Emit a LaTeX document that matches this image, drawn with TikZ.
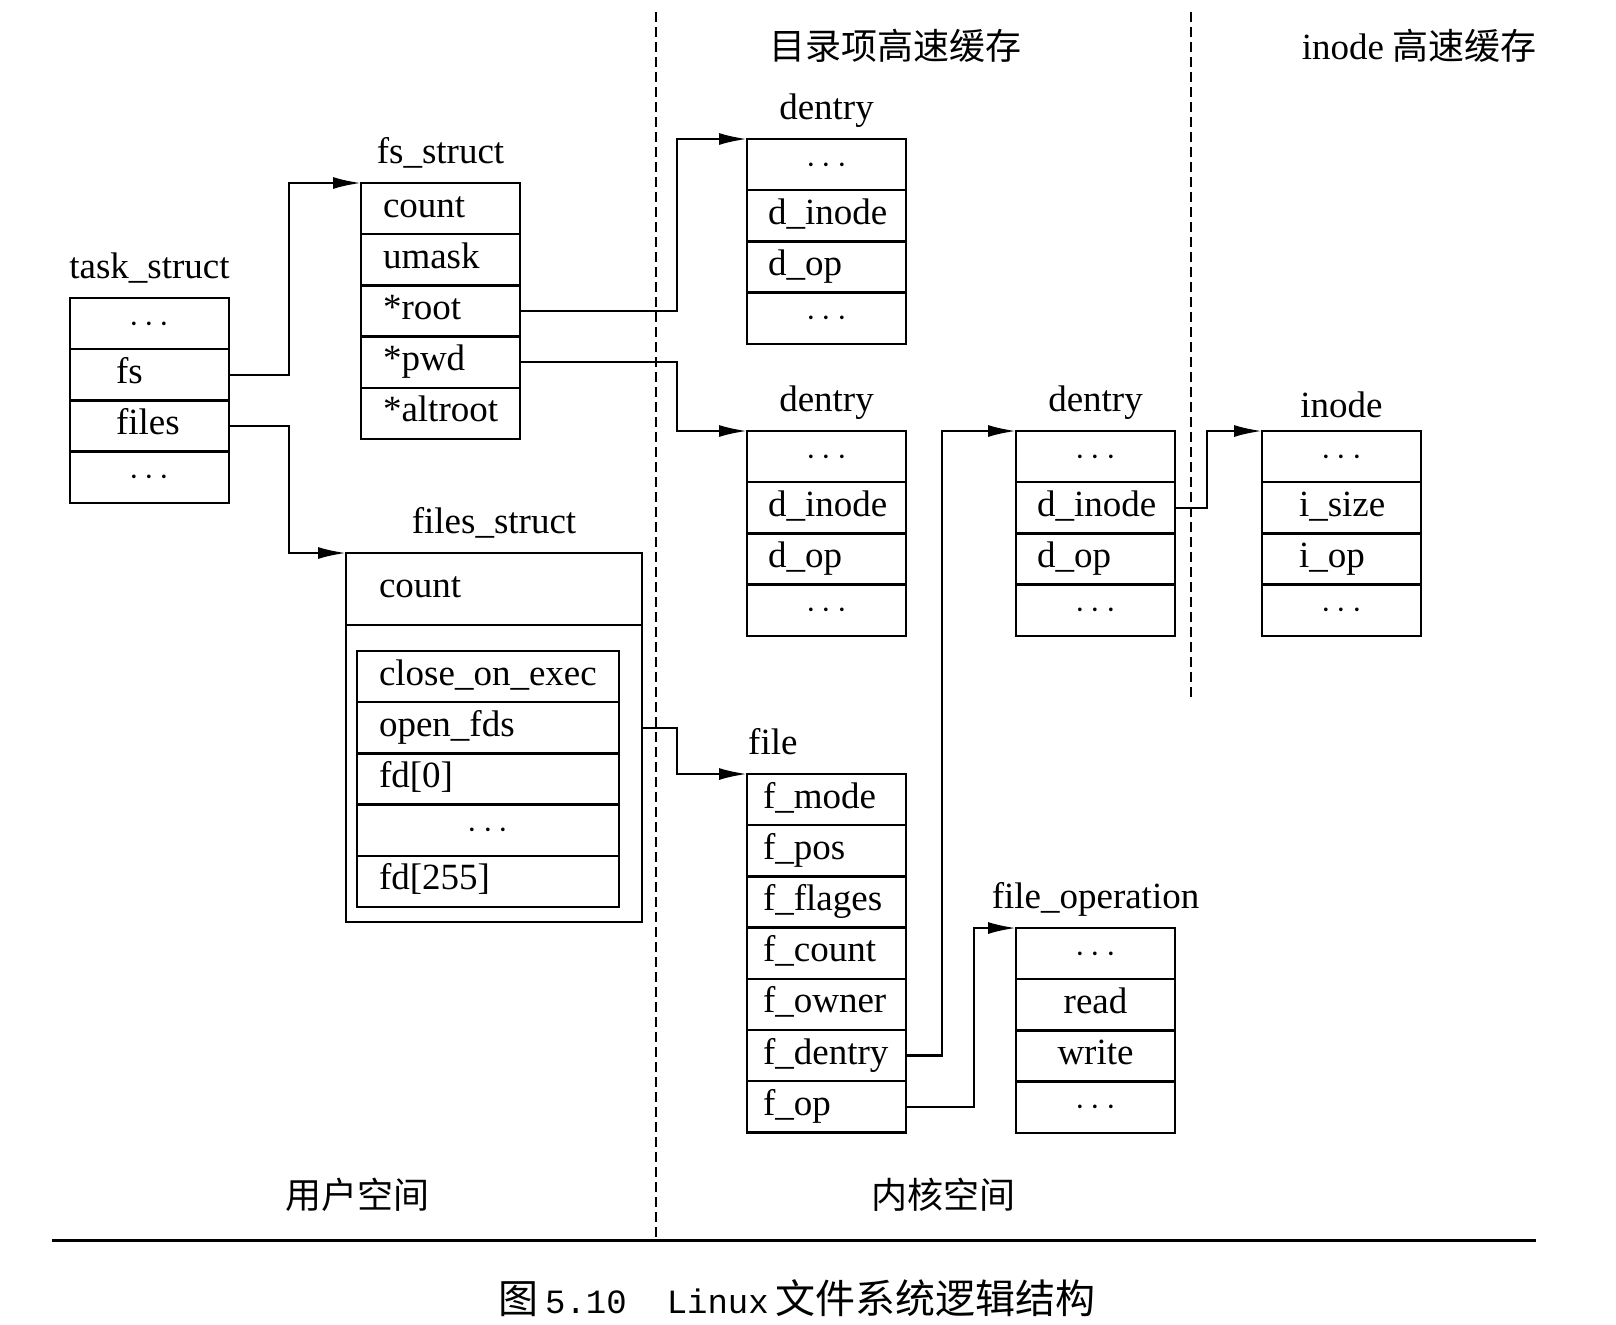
\documentclass[tikz,border=0pt]{standalone}
\usepackage{fontspec}
\setmainfont{Liberation Serif}
\setmonofont{Liberation Mono}
\newfontfamily\cjk{Noto Sans CJK SC}
\usetikzlibrary{positioning, arrows.meta}
\hyphenpenalty=10000

\begin{document}
\begin{tikzpicture}[
    x=0.5pt, y=-0.5pt, line width=1.2pt,
    field/.style={draw, outer sep=0pt, inner ysep=0pt, minimum height=25.6pt, text height=13pt, text depth=4.5pt, align=left, font=\fontsize{18.5}{22}\selectfont},
    tsrow/.style={field, inner xsep=23pt, text width=33.5pt},
    fsrow/.style={field, inner xsep=11pt, text width=57.5pt},
    fdrow/.style={field, inner xsep=11pt, text width=109pt},
    derow/.style={field, inner xsep=10.5pt, text width=58.5pt},
    filerow/.style={field, inner xsep=8pt, text width=63.5pt},
    inrow/.style={field, inner xsep=18.5pt, text width=42.5pt},
    title/.style={anchor=base, inner sep=0pt, font=\fontsize{18.5}{22}\selectfont},
    zh/.style={font=\fontsize{18}{20}\selectfont\cjk},
    arrow/.style={-{Latex[length=14pt, width=6pt]}},
    divider/.style={dash pattern=on 5pt off 2.5pt}
]
    \useasboundingbox (0,0) rectangle (1616,1324);

    % --- USER SPACE ---
    \node (ts1) [tsrow, align=center, anchor=north west] at (70,298) {$\cdots$};
    \node (ts2) [tsrow, below=0pt of ts1] {fs};
    \node (ts3) [tsrow, below=0pt of ts2] {files};
    \node (ts4) [tsrow, align=center, below=0pt of ts3] {$\cdots$};
    \node (ts) [title] at ([yshift=10pt]ts1.north) {task\_struct};

    \node (fs1) [fsrow, anchor=north west] at (361,183) {count};
    \node (fs2) [fsrow, below=0pt of fs1] {umask};
    \node (fs3) [fsrow, below=0pt of fs2] {*root};
    \node (fs4) [fsrow, below=0pt of fs3] {*pwd};
    \node (fs5) [fsrow, below=0pt of fs4] {*altroot};
    \node (fs) [title] at ([yshift=10pt]fs1.north) {fs\_struct};

    \node (fc) [field, inner xsep=16.5pt, text width=115pt, minimum height=36pt, anchor=north west] at (346,553) {count};
    \node (fbody) [draw, outer sep=0pt, minimum width=148pt, minimum height=148.5pt, below=0pt of fc] {};
    \node (fd1) [fdrow, anchor=north west] at (357,651) {close\_on\_exec};
    \node (fd2) [fdrow, below=0pt of fd1] {open\_fds};
    \node (fd3) [fdrow, below=0pt of fd2] {fd[0]};
    \node (fd4) [fdrow, align=center, below=0pt of fd3] {$\cdots$};
    \node (fd5) [fdrow, below=0pt of fd4] {fd[255]};
    \node (fst) [title] at ([yshift=10pt]fc.north) {files\_struct};

    % --- DENTRY CACHE ---
    \node (da1) [derow, align=center, anchor=north west] at (747,139) {$\cdots$};
    \node (da2) [derow, below=0pt of da1] {d\_inode};
    \node (da3) [derow, below=0pt of da2] {d\_op};
    \node (da4) [derow, align=center, below=0pt of da3] {$\cdots$};
    \node (da) [title] at ([yshift=10pt]da1.north) {dentry};

    \node (db1) [derow, align=center, anchor=north west] at (747,431) {$\cdots$};
    \node (db2) [derow, below=0pt of db1] {d\_inode};
    \node (db3) [derow, below=0pt of db2] {d\_op};
    \node (db4) [derow, align=center, below=0pt of db3] {$\cdots$};
    \node (db) [title] at ([yshift=10pt]db1.north) {dentry};

    \node (dc1) [derow, align=center, anchor=north west] at (1016,431) {$\cdots$};
    \node (dc2) [derow, below=0pt of dc1] {d\_inode};
    \node (dc3) [derow, below=0pt of dc2] {d\_op};
    \node (dc4) [derow, align=center, below=0pt of dc3] {$\cdots$};
    \node (dc) [title] at ([yshift=10pt]dc1.north) {dentry};

    % --- FILE ---
    \node (f1) [filerow, anchor=north west] at (747,774) {f\_mode};
    \node (f2) [filerow, below=0pt of f1] {f\_pos};
    \node (f3) [filerow, below=0pt of f2] {f\_flages};
    \node (f4) [filerow, below=0pt of f3] {f\_count};
    \node (f5) [filerow, below=0pt of f4] {f\_owner};
    \node (f6) [filerow, below=0pt of f5] {f\_dentry};
    \node (f7) [filerow, below=0pt of f6] {f\_op};
    \node (file) [title, anchor=base west] at ([yshift=10pt]f1.north west) {file};

    \node (fo1) [filerow, align=center, anchor=north west] at (1016,928) {$\cdots$};
    \node (fo2) [filerow, align=center, below=0pt of fo1] {read};
    \node (fo3) [filerow, align=center, below=0pt of fo2] {write};
    \node (fo4) [filerow, align=center, below=0pt of fo3] {$\cdots$};
    \node (fo) [title] at ([yshift=10pt]fo1.north) {file\_operation};

    % --- INODE CACHE ---
    \node (in1) [inrow, align=center, anchor=north west] at (1262,431) {$\cdots$};
    \node (in2) [inrow, below=0pt of in1] {i\_size};
    \node (in3) [inrow, below=0pt of in2] {i\_op};
    \node (in4) [inrow, align=center, below=0pt of in3] {$\cdots$};
    \node (in) [title] at ([yshift=7pt]in1.north) {inode};

    % --- CONNECTIONS ---
    \draw [arrow] (ts2.east) -- ++(60,0) |- (fs1.north west);
    \draw [arrow] (ts3.east) -- ++(60,0) |- (fc.north west);
    \draw [arrow] (fs3.east) -- ++(157,0) |- (da1.north west);
    \draw [arrow] (fs4.east) -- ++(157,0) |- (db1.north west);
    \draw [arrow] (fbody.east |- fd2.east) -- ++(35,0) |- (f1.north west);
    \draw [arrow] (f6.east) -- ++(36,0) |- (dc1.north west);
    \draw [arrow] (f7.east) -- ++(68,0) |- (fo1.north west);
    \draw [arrow] (dc2.east) -- ++(32,0) |- (in1.north west);

    % --- REGIONS ---
    \draw [divider] (656,12) -- (656,1240);
    \draw [divider] (1191,12) -- (1191,701);
    \draw [line width=1.5pt] (52,1240) -- (1536,1240);

    \node (hdr1) [zh] at (895,46) {目录项高速缓存};
    \node (hdr2) [zh] at (1419,46) {{\rmfamily\fontsize{18.5}{22}\selectfont inode} 高速缓存};
    \node (user) [zh] at (357,1195) {用户空间};
    \node (kernel) [zh] at (943,1195) {内核空间};
    \node (cap) [font=\fontsize{20}{22}\selectfont\cjk, inner sep=0pt] at (797,1298) {图\,{\ttfamily\fontsize{17}{18}\selectfont 5.10}\quad{\ttfamily\fontsize{17}{18}\selectfont Linux}\,文件系统逻辑结构};

\end{tikzpicture}
\end{document}
